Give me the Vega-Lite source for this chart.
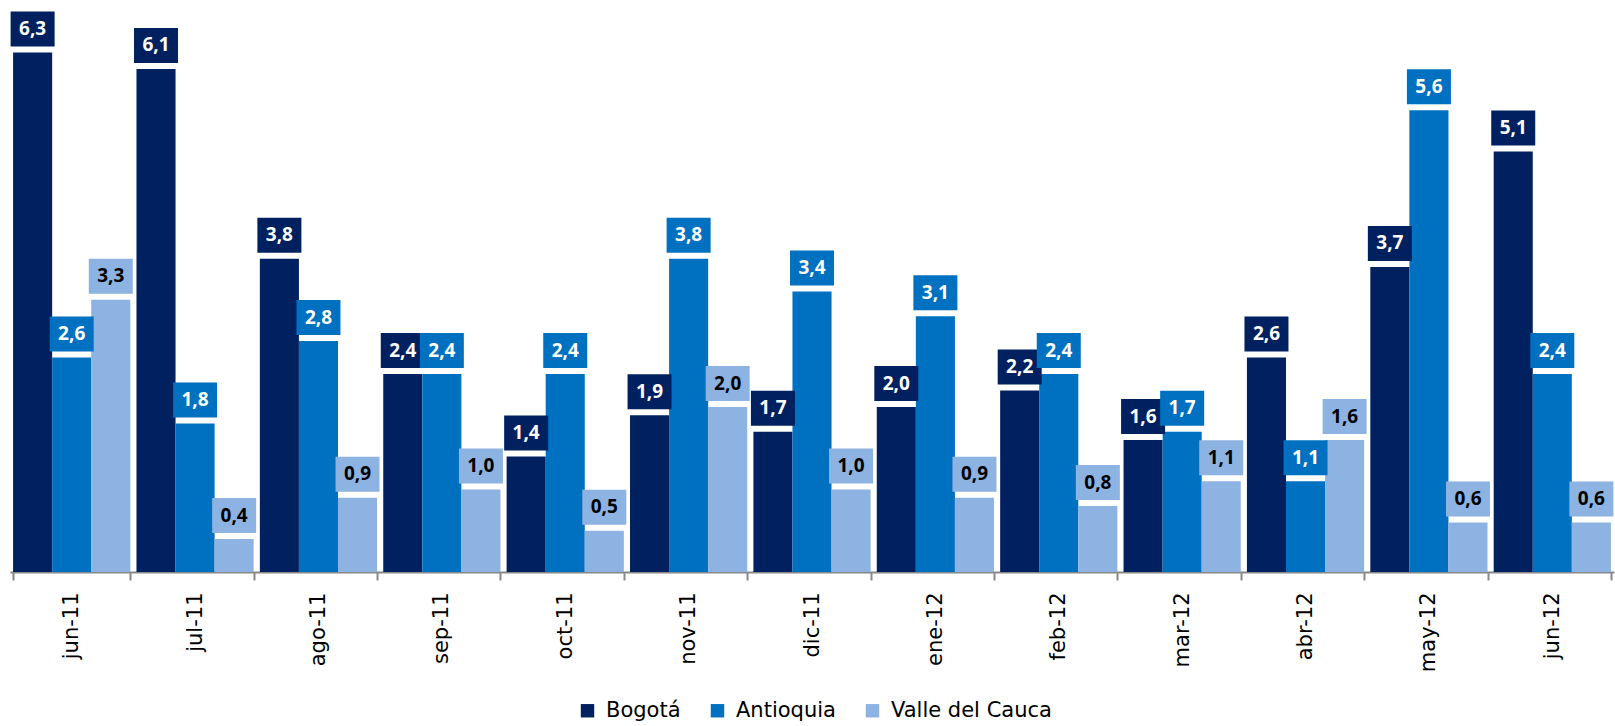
{
  "$schema": "https://vega.github.io/schema/vega-lite/v6.json",
  "width": 1604,
  "height": 569,
  "autosize": {"type": "none"},
  "padding": {"left": 10, "top": 3, "right": 1, "bottom": 154},
  "config": {
    "view": {"stroke": null},
    "font": "Open Sans",
    "locale": {"number": {"decimal": ",", "thousands": ".", "grouping": [3], "currency": ["", ""]}}
  },
  "data": {
    "values": [
      {"mes": "jun-11", "serie": "Bogotá", "valor": 6.3},
      {"mes": "jun-11", "serie": "Antioquia", "valor": 2.6},
      {"mes": "jun-11", "serie": "Valle del Cauca", "valor": 3.3},
      {"mes": "jul-11", "serie": "Bogotá", "valor": 6.1},
      {"mes": "jul-11", "serie": "Antioquia", "valor": 1.8},
      {"mes": "jul-11", "serie": "Valle del Cauca", "valor": 0.4},
      {"mes": "ago-11", "serie": "Bogotá", "valor": 3.8},
      {"mes": "ago-11", "serie": "Antioquia", "valor": 2.8},
      {"mes": "ago-11", "serie": "Valle del Cauca", "valor": 0.9},
      {"mes": "sep-11", "serie": "Bogotá", "valor": 2.4},
      {"mes": "sep-11", "serie": "Antioquia", "valor": 2.4},
      {"mes": "sep-11", "serie": "Valle del Cauca", "valor": 1.0},
      {"mes": "oct-11", "serie": "Bogotá", "valor": 1.4},
      {"mes": "oct-11", "serie": "Antioquia", "valor": 2.4},
      {"mes": "oct-11", "serie": "Valle del Cauca", "valor": 0.5},
      {"mes": "nov-11", "serie": "Bogotá", "valor": 1.9},
      {"mes": "nov-11", "serie": "Antioquia", "valor": 3.8},
      {"mes": "nov-11", "serie": "Valle del Cauca", "valor": 2.0},
      {"mes": "dic-11", "serie": "Bogotá", "valor": 1.7},
      {"mes": "dic-11", "serie": "Antioquia", "valor": 3.4},
      {"mes": "dic-11", "serie": "Valle del Cauca", "valor": 1.0},
      {"mes": "ene-12", "serie": "Bogotá", "valor": 2.0},
      {"mes": "ene-12", "serie": "Antioquia", "valor": 3.1},
      {"mes": "ene-12", "serie": "Valle del Cauca", "valor": 0.9},
      {"mes": "feb-12", "serie": "Bogotá", "valor": 2.2},
      {"mes": "feb-12", "serie": "Antioquia", "valor": 2.4},
      {"mes": "feb-12", "serie": "Valle del Cauca", "valor": 0.8},
      {"mes": "mar-12", "serie": "Bogotá", "valor": 1.6},
      {"mes": "mar-12", "serie": "Antioquia", "valor": 1.7},
      {"mes": "mar-12", "serie": "Valle del Cauca", "valor": 1.1},
      {"mes": "abr-12", "serie": "Bogotá", "valor": 2.6},
      {"mes": "abr-12", "serie": "Antioquia", "valor": 1.1},
      {"mes": "abr-12", "serie": "Valle del Cauca", "valor": 1.6},
      {"mes": "may-12", "serie": "Bogotá", "valor": 3.7},
      {"mes": "may-12", "serie": "Antioquia", "valor": 5.6},
      {"mes": "may-12", "serie": "Valle del Cauca", "valor": 0.6},
      {"mes": "jun-12", "serie": "Bogotá", "valor": 5.1},
      {"mes": "jun-12", "serie": "Antioquia", "valor": 2.4},
      {"mes": "jun-12", "serie": "Valle del Cauca", "valor": 0.6}
    ]
  },
  "encoding": {
    "x": {
      "field": "mes", "type": "nominal", "sort": null,
      "scale": {"paddingInner": 0.05, "paddingOuter": 0.025},
      "axis": {
        "title": null, "labelAngle": -90, "labelFontSize": 21, "labelFont": "DejaVu Sans",
        "labelColor": "black", "domainColor": "#888888", "domainWidth": 2,
        "tickColor": "#888888", "tickWidth": 2, "tickSize": 8, "tickBand": "extent",
        "labelPadding": 12
      }
    },
    "xOffset": {
      "field": "serie", "type": "nominal",
      "sort": ["Bogotá", "Antioquia", "Valle del Cauca"],
      "scale": {"paddingInner": 0, "paddingOuter": 0}
    },
    "y": {"field": "valor", "type": "quantitative", "scale": {"domain": [0, 6.9]}, "axis": null}
  },
  "layer": [
    {
      "mark": {"type": "bar"},
      "encoding": {
        "color": {
          "field": "serie", "type": "nominal",
          "sort": ["Bogotá", "Antioquia", "Valle del Cauca"],
          "scale": {"domain": ["Bogotá", "Antioquia", "Valle del Cauca"], "range": ["#002060", "#0070C0", "#8DB3E2"]},
          "legend": {
            "orient": "none", "legendX": 567, "legendY": 697, "direction": "horizontal",
            "title": null, "symbolType": "square", "symbolSize": 180, "symbolStrokeWidth": 0,
            "labelFontSize": 21, "labelFont": "DejaVu Sans", "labelColor": "black", "labelLimit": 400,
            "columnPadding": 26, "labelOffset": 8
          }
        }
      }
    },
    {
      "mark": {"type": "rect", "yOffset": -41, "y2Offset": -6, "width": 44},
      "encoding": {
        "y2": {"field": "valor"},
        "color": {"field": "serie", "type": "nominal", "legend": null}
      }
    },
    {
      "mark": {"type": "text", "yOffset": -23.5, "font": "Open Sans", "fontWeight": "bold", "fontSize": 19, "baseline": "middle", "align": "center"},
      "encoding": {
        "text": {"field": "valor", "type": "quantitative", "format": ".1f"},
        "color": {"condition": {"test": "datum.serie === 'Valle del Cauca'", "value": "black"}, "value": "white"}
      }
    }
  ]
}
